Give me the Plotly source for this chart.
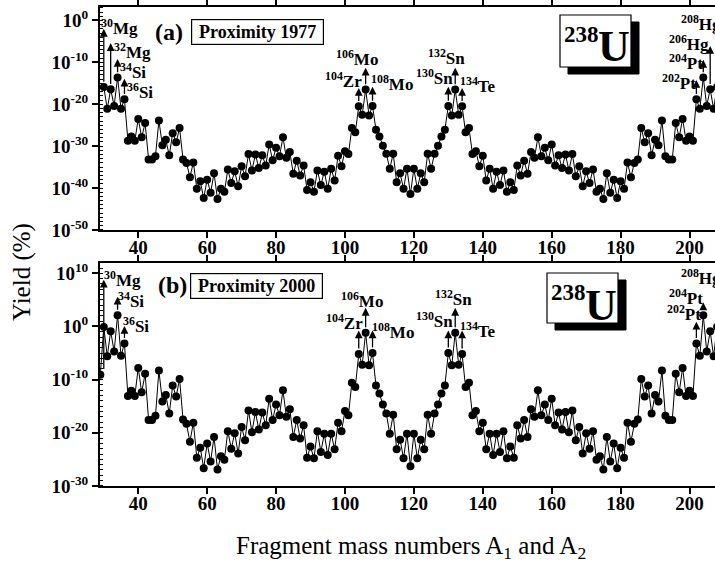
import plotly.graph_objects as go

# ---------------- data (log10 of yield in %) ----------------
mass_a = list(range(30, 209))
log_yield_a = [
    -15.9, -21.1, -16.4, -20.4, -13.6, -21.1, -18.8, -28.7, -27.7, -28.7,   # 30-39
    -23.5, -27.9, -24.5, -33.2, -33.2, -32.4, -23.9, -29.8, -28.5, -32.2,   # 40-49
    -26.9, -29.1, -25.7, -33.2, -34.0, -37.4, -33.9, -40.2, -38.4, -42.4,   # 50-59
    -38.0, -41.1, -36.5, -42.6, -40.2, -40.9, -35.6, -38.8, -36.0, -39.6,   # 60-69
    -34.8, -37.2, -31.9, -35.8, -32.0, -35.2, -32.2, -34.6, -29.6, -33.4,   # 70-79
    -30.4, -32.4, -27.9, -32.8, -31.4, -36.6, -33.5, -37.0, -34.6, -40.5,   # 80-89
    -38.6, -40.9, -35.8, -39.3, -36.1, -40.2, -35.4, -38.2, -32.3, -34.8,   # 90-99
    -31.2, -31.9, -25.7, -26.7, -20.5, -22.5, -16.5, -22.7, -20.4, -26.1,   # 100-109
    -27.7, -29.9, -31.8, -35.4, -31.8, -38.6, -36.5, -40.2, -35.4, -41.4,   # 110-119
    -35.4, -40.2, -36.5, -38.6, -31.8, -35.4, -31.8, -29.9, -27.7, -26.1,   # 120-129
    -20.4, -22.7, -16.5, -22.5, -20.5, -26.7, -25.7, -31.9, -31.2, -34.8,   # 130-139
    -32.3, -38.2, -35.4, -40.2, -36.1, -39.3, -35.8, -40.9, -38.6, -40.5,   # 140-149
    -34.6, -37.0, -33.5, -36.6, -31.4, -32.8, -27.9, -32.4, -30.4, -33.4,   # 150-159
    -29.6, -34.6, -32.2, -35.2, -32.0, -35.8, -31.9, -37.2, -34.8, -39.6,   # 160-169
    -36.0, -38.8, -35.6, -40.9, -40.2, -42.6, -36.5, -41.1, -38.0, -42.4,   # 170-179
    -38.4, -40.2, -33.9, -37.4, -34.0, -33.2, -25.7, -29.1, -26.9, -32.2,   # 180-189
    -28.5, -29.8, -23.9, -32.4, -33.2, -33.2, -24.5, -27.9, -23.5, -28.7,   # 190-199
    -27.7, -28.7, -18.8, -21.1, -13.6, -20.4, -16.4, -21.1, -15.9,          # 200-208
]

mass_b = list(range(29, 210))
log_yield_b = [
    -9.1,                                                                   # 29
    -0.1, -5.6, -0.9, -4.7, 2.1, -5.5, -3.2, -13.1, -12.1, -13.1,           # 30-39
    -7.8, -12.4, -8.9, -17.6, -17.6, -16.8, -8.3, -14.1, -12.9, -16.4,      # 40-49
    -11.1, -13.2, -9.9, -17.5, -18.3, -21.7, -18.1, -24.7, -22.8, -26.7,    # 50-59
    -22.0, -25.4, -20.8, -26.9, -24.4, -25.1, -19.7, -23.0, -20.1, -23.9,   # 60-69
    -18.9, -21.4, -15.8, -19.9, -16.1, -19.4, -16.2, -18.6, -13.6, -17.6,   # 70-79
    -14.7, -16.7, -12.0, -17.0, -15.6, -20.8, -17.6, -21.1, -18.6, -24.7,   # 80-89
    -22.6, -24.8, -19.7, -23.6, -20.2, -24.2, -20.2, -23.1, -18.1, -19.7,   # 90-99
    -15.9, -16.7, -10.6, -11.4, -5.2, -7.2, -1.2, -7.3, -5.0, -11.1,        # 100-109
    -12.6, -14.7, -16.4, -20.2, -16.6, -23.1, -21.3, -24.8, -20.2, -26.3,   # 110-119
    -20.2, -24.8, -21.3, -23.1, -16.6, -20.2, -16.4, -14.7, -12.6, -11.1,   # 120-129
    -5.0, -7.3, -1.2, -7.2, -5.2, -11.4, -10.6, -16.7, -15.9, -19.7,        # 130-139
    -18.1, -23.1, -20.2, -24.2, -20.2, -23.6, -19.7, -24.8, -22.6, -24.7,   # 140-149
    -18.6, -21.1, -17.6, -20.8, -15.6, -17.0, -12.0, -16.7, -14.7, -17.6,   # 150-159
    -13.6, -18.6, -16.2, -19.4, -16.1, -19.9, -15.8, -21.4, -18.9, -23.9,   # 160-169
    -20.1, -23.0, -19.7, -25.1, -24.4, -26.9, -20.8, -25.4, -22.0, -26.7,   # 170-179
    -22.8, -24.7, -18.1, -21.7, -18.3, -17.5, -9.9, -13.2, -11.1, -16.4,    # 180-189
    -12.9, -14.1, -8.3, -16.8, -17.6, -17.6, -8.9, -12.4, -7.8, -13.1,      # 190-199
    -12.1, -13.1, -3.2, -5.5, 2.1, -4.7, -0.9, -5.6, -0.1, -9.1,            # 200-209
]

x_ticks = [40, 60, 80, 100, 120, 140, 160, 180, 200]
y_ticks_a = [0, -10, -20, -30, -40, -50]
y_ticks_b = [10, 0, -10, -20, -30]

# labelled fragments: (mass, label, arrow-head exponent)
labels_a = [
    (30, "<sup>30</sup>Mg", -2.0), (32, "<sup>32</sup>Mg", -5.4),
    (34, "<sup>34</sup>Si", -9.2), (36, "<sup>36</sup>Si", -13.9),
    (104, "<sup>104</sup>Zr", -16.1), (106, "<sup>106</sup>Mo", -11.3),
    (108, "<sup>108</sup>Mo", -15.8), (130, "<sup>130</sup>Sn", -15.8),
    (132, "<sup>132</sup>Sn", -11.3), (134, "<sup>134</sup>Te", -16.1),
    (202, "<sup>202</sup>Pt", -14.2), (204, "<sup>204</sup>Pt", -9.4),
    (206, "<sup>206</sup>Hg", -6.1), (208, "<sup>208</sup>Hg", -3.5),
]
labels_b = [
    (30, "<sup>30</sup>Mg", 8.8), (34, "<sup>34</sup>Si", 5.6),
    (36, "<sup>36</sup>Si", 0.1), (104, "<sup>104</sup>Zr", -0.75),
    (106, "<sup>106</sup>Mo", 3.5), (108, "<sup>108</sup>Mo", -0.75),
    (130, "<sup>130</sup>Sn", -0.75), (132, "<sup>132</sup>Sn", 3.5),
    (134, "<sup>134</sup>Te", -0.75), (202, "<sup>202</sup>Pt", 0.9),
    (204, "<sup>204</sup>Pt", 4.5), (208, "<sup>208</sup>Hg", 7.2),
]

yield_a = [10 ** v for v in log_yield_a]
yield_b = [10 ** v for v in log_yield_b]

# ---------------- layout helpers ----------------
W, H = 715, 569
L = 100
PW = W - L


def px(xp):
    return (xp - L) / PW


def py(yp):
    return 1 - yp / H


SERIF = "Liberation Serif"
BLACK = "black"

fig = go.Figure()
mk = dict(color=BLACK, size=8)
fig.add_trace(go.Scatter(x=mass_a, y=yield_a, mode="lines+markers",
                         line=dict(color=BLACK, width=1), marker=mk,
                         xaxis="x", yaxis="y", showlegend=False))
fig.add_trace(go.Scatter(x=mass_b, y=yield_b, mode="lines+markers",
                         line=dict(color=BLACK, width=1), marker=mk,
                         xaxis="x2", yaxis="y2", showlegend=False))

tickfont = dict(family=SERIF, size=19, color=BLACK, weight="bold")


def xax(anchor):
    return dict(domain=[0, 1], anchor=anchor, range=[28.9, 207.4],
                tickvals=x_ticks, ticktext=[str(t) for t in x_ticks],
                ticks="outside", ticklen=6, tickwidth=1.5, tickcolor=BLACK,
                ticklabelstandoff=-7,
                showline=True, linewidth=2, linecolor=BLACK, mirror="ticks",
                showgrid=False, zeroline=False, tickfont=tickfont)


def yax(anchor, dom, rng, ticks):
    return dict(domain=dom, anchor=anchor, type="log", range=rng,
                tickvals=[10 ** t for t in ticks],
                ticktext=["10<sup>%d</sup>" % t for t in ticks],
                ticks="outside", ticklen=6, tickwidth=1.5, tickcolor=BLACK,
                minor=dict(tickvals=[10 ** k for k in range(int(rng[0]) - 1, int(rng[1]) + 2)],
                           ticks="inside", ticklen=3, tickwidth=1, tickcolor=BLACK),
                showline=True, linewidth=2, linecolor=BLACK,
                showgrid=False, zeroline=False, tickfont=tickfont)


fig.update_layout(
    width=W, height=H, template="none",
    paper_bgcolor="white", plot_bgcolor="white",
    margin=dict(l=L, r=0, t=0, b=0, autoexpand=False),
    xaxis=xax("y"),
    yaxis=yax("x", [py(230), py(7.3)], [-50.02, 3.14], y_ticks_a),
    xaxis2=xax("y2"),
    yaxis2=yax("x2", [py(486), py(262.7)], [-30.02, 12.0], y_ticks_b),
)

ann = []
lab_font = dict(family=SERIF, size=17, color=BLACK, weight="bold")

# arrows from data points to labels
for labels, xr, yr, vals, masses, off in [
    (labels_a, "x", "y", log_yield_a, mass_a, 0.9),
    (labels_b, "x2", "y2", log_yield_b, mass_b, 0.75),
]:
    for m, _, head in labels:
        tail = vals[masses.index(m)] + off
        if xr == "x2" and m == 30:
            tail = -8.3
        ann.append(dict(x=m, y=head, ax=m, ay=tail, xref=xr, yref=yr,
                        axref=xr, ayref=yr, text="", showarrow=True,
                        arrowhead=2, arrowsize=1.2, arrowwidth=1.3,
                        arrowcolor=BLACK, standoff=0, startstandoff=0))

# label text positions (left edge px, centre px)
pos_a = {30: (100, 27), 32: (113, 51), 34: (119, 71), 36: (126, 91),
         104: (324, 80), 106: (335, 58), 108: (370, 83),
         130: (415, 77), 132: (427, 57), 134: (459, 85),
         202: (661, 82), 204: (668, 62), 206: (668, 43), 208: (680, 23)}
pos_b = {30: (103, 279), 34: (117, 300), 36: (122, 325),
         104: (325, 322), 106: (340, 300), 108: (371, 331),
         130: (415, 320), 132: (434, 298), 134: (459, 330),
         202: (666, 313), 204: (668, 297), 208: (680, 277)}
for labels, pos in [(labels_a, pos_a), (labels_b, pos_b)]:
    for m, txt, _ in labels:
        lx, ly = pos[m]
        ann.append(dict(x=px(lx), y=py(ly), xref="paper", yref="paper",
                        xanchor="left", yanchor="middle", text=txt,
                        showarrow=False, font=lab_font, borderpad=0))

# panel letters and method boxes
for letter, cx, cy in [("(a)", 169, 32), ("(b)", 172, 285)]:
    ann.append(dict(x=px(cx), y=py(cy), xref="paper", yref="paper",
                    xanchor="center", yanchor="middle",
                    text=letter, showarrow=False,
                    font=dict(family=SERIF, size=24, color=BLACK, weight="bold")))
for txt, cx, cy in [("Proximity 1977", 257.5, 32), ("Proximity 2000", 256, 285.5)]:
    ann.append(dict(x=px(cx), y=py(cy), xref="paper", yref="paper",
                    xanchor="center", yanchor="middle",
                    text=txt, showarrow=False, width=129, height=22,
                    bordercolor=BLACK, borderwidth=1.2, borderpad=1, bgcolor="white",
                    font=dict(family=SERIF, size=18, color=BLACK, weight="bold")))

# 238U boxes with shadow
shapes = []
for (x0, y0, x1, y1) in [(560, 15, 631, 67), (547, 273, 618, 323)]:
    shapes.append(dict(type="rect", xref="paper", yref="paper",
                       x0=px(x0 + 8), x1=px(x1 + 8), y0=py(y1 + 7), y1=py(y0 + 7),
                       fillcolor=BLACK, line=dict(color=BLACK, width=1), layer="above"))
    shapes.append(dict(type="rect", xref="paper", yref="paper",
                       x0=px(x0), x1=px(x1), y0=py(y1), y1=py(y0),
                       fillcolor="white", line=dict(color=BLACK, width=1.2), layer="above"))
    ann.append(dict(x=px(x0 + 2), y=py(y0 + 19), xref="paper", yref="paper",
                    xanchor="left", yanchor="middle", text="238", showarrow=False,
                    font=dict(family=SERIF, size=23, color=BLACK, weight="bold")))
    ann.append(dict(x=px(x0 + 36), y=py(y0 + 32), xref="paper", yref="paper",
                    xanchor="left", yanchor="middle", text="U", showarrow=False,
                    font=dict(family=SERIF, size=44, color=BLACK, weight="bold")))

# axis titles
ann.append(dict(x=px(22), y=py(272), xref="paper", yref="paper", text="Yield (%)",
                xanchor="center", yanchor="middle",
                textangle=-90, showarrow=False,
                font=dict(family=SERIF, size=25, color=BLACK)))
ann.append(dict(x=px(411), y=py(547), xref="paper", yref="paper",
                xanchor="center", yanchor="middle",
                text="Fragment mass numbers A<sub>1</sub> and A<sub>2</sub>",
                showarrow=False, font=dict(family=SERIF, size=25, color=BLACK)))

fig.update_layout(annotations=ann, shapes=shapes)
fig.write_html("out.html",
               config={"displayModeBar": False},
               post_script="document.body.style.margin='0px';"
                           "document.documentElement.style.overflow='hidden';")
